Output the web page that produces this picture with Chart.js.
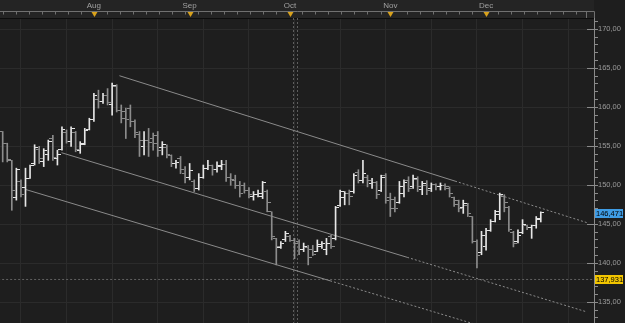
<!DOCTYPE html>
<html>
<head>
<meta charset="utf-8">
<script src="https://cdn.jsdelivr.net/npm/chart.js@4.4.1/dist/chart.umd.min.js"></script>
<style>
  html, body { margin: 0; padding: 0; background: #1e1e1e; }
  canvas { display: block; }
</style>
</head>
<body>
<canvas id="chart" width="625" height="323"></canvas>
<script>
// daily bars, one per trading day (index 0 = first bar on the left)
const opens = [156.9, 155.4, 153.2, 148.5, 150.5, 149.7, 150.9, 152.8, 154.6, 153.0,
  154.0, 156.0, 153.4, 154.6, 156.8, 155.6, 156.8, 154.4, 155.4, 157.2,
  158.5, 161.0, 160.8, 161.5, 160.4, 162.7, 159.6, 159.5, 159.8, 158.2,
  156.5, 155.0, 155.8, 156.0, 156.4, 154.8, 154.8, 153.8, 152.8, 153.4,
  151.5, 151.0, 150.5, 149.6, 151.0, 152.2, 152.6, 152.0, 152.4, 152.7,
  151.0, 150.6, 150.0, 150.0, 149.3, 148.6, 148.8, 148.6, 149.2, 146.6,
  143.2, 142.0, 143.0, 143.4, 142.9, 142.8, 141.8, 142.0, 141.8, 141.5,
  142.2, 141.8, 143.4, 143.2, 147.4, 148.4, 149.0, 149.2, 151.6, 150.6,
  151.0, 150.2, 150.4, 149.4, 151.3, 148.4, 148.2, 147.8, 149.0, 150.6,
  149.8, 150.7, 149.5, 150.0, 149.6, 150.1, 149.8, 150.0, 149.6, 148.4,
  148.0, 147.2, 147.4, 146.0, 142.8, 141.4, 142.2, 144.2, 145.4, 146.2,
  148.6, 147.2, 144.0, 142.8, 144.0, 144.8, 144.6, 144.8, 145.6];
const highs = [156.9, 155.4, 153.2, 152.2, 150.7, 152.2, 152.6, 155.2, 155.0, 154.7,
  155.8, 156.4, 154.5, 157.5, 157.1, 157.5, 156.9, 155.6, 157.3, 158.6,
  161.8, 162.2, 161.8, 162.4, 163.1, 162.9, 160.3, 159.9, 160.3, 158.4,
  156.9, 156.9, 157.3, 156.7, 156.9, 155.6, 155.2, 153.9, 153.2, 153.7,
  152.4, 152.8, 150.7, 151.5, 152.6, 153.2, 152.6, 153.0, 153.2, 153.2,
  151.5, 151.3, 150.5, 150.3, 149.7, 149.2, 149.4, 150.5, 149.4, 146.6,
  143.2, 142.8, 144.1, 143.6, 143.2, 143.0, 142.6, 142.3, 142.3, 143.0,
  142.8, 143.2, 143.6, 147.3, 149.4, 149.2, 149.4, 151.5, 152.0, 153.2,
  151.3, 150.9, 150.5, 151.3, 151.5, 149.0, 148.5, 150.5, 150.7, 151.1,
  151.3, 151.1, 150.5, 150.6, 150.3, 150.2, 150.3, 150.2, 149.8, 148.5,
  148.1, 148.1, 147.7, 146.0, 143.0, 144.1, 144.5, 145.6, 146.8, 149.0,
  148.8, 147.3, 144.1, 144.3, 145.6, 144.9, 144.9, 146.0, 146.6];
const lows = [153.0, 153.0, 146.8, 148.1, 148.5, 147.3, 150.9, 152.6, 152.8, 152.4,
  153.2, 153.2, 152.6, 154.5, 155.4, 155.0, 154.3, 154.1, 155.2, 157.1,
  158.2, 159.9, 160.5, 160.3, 159.0, 159.4, 158.0, 156.0, 157.5, 156.1,
  153.7, 153.9, 153.7, 154.5, 153.7, 153.9, 153.5, 152.4, 152.2, 151.5,
  150.3, 150.7, 149.2, 149.4, 150.9, 152.0, 151.3, 151.7, 152.0, 150.5,
  150.0, 149.6, 148.5, 149.0, 148.4, 148.1, 148.5, 148.3, 146.6, 143.0,
  139.8, 141.9, 142.8, 142.8, 140.6, 141.1, 141.5, 139.8, 141.0, 141.5,
  141.9, 141.1, 141.9, 143.0, 147.3, 147.5, 147.5, 149.0, 150.3, 150.3,
  149.8, 149.6, 148.3, 149.2, 147.7, 146.0, 146.6, 147.7, 148.5, 149.2,
  149.6, 149.2, 148.8, 148.8, 149.2, 149.4, 149.4, 149.4, 148.5, 147.3,
  146.6, 146.4, 146.0, 142.6, 139.4, 141.1, 141.7, 144.1, 145.3, 145.6,
  146.6, 144.1, 142.1, 142.6, 143.8, 144.3, 143.2, 144.5, 145.3];
const closes = [155.4, 153.3, 149.4, 152.0, 148.8, 150.9, 152.6, 154.9, 153.4, 154.5,
  155.6, 153.6, 154.0, 157.2, 155.6, 157.3, 154.6, 155.2, 157.0, 158.4,
  161.5, 160.8, 161.5, 160.6, 162.8, 159.6, 158.6, 158.4, 158.2, 156.8,
  155.8, 155.8, 155.5, 155.4, 154.5, 155.2, 154.0, 152.8, 152.9, 152.0,
  151.0, 151.9, 149.6, 151.0, 152.2, 152.6, 152.0, 152.6, 152.7, 151.0,
  150.8, 150.0, 149.0, 149.3, 148.8, 148.8, 149.0, 150.3, 147.8, 143.4,
  142.2, 142.6, 143.8, 142.9, 142.6, 141.8, 142.2, 140.8, 141.1, 142.4,
  142.5, 142.5, 142.2, 147.1, 149.2, 149.0, 148.6, 151.2, 150.6, 151.5,
  150.6, 150.4, 148.8, 151.0, 148.0, 147.0, 147.0, 149.8, 150.4, 149.6,
  150.9, 149.8, 150.2, 149.4, 150.1, 149.8, 150.0, 149.9, 148.9, 147.6,
  147.0, 147.7, 146.4, 142.8, 141.0, 143.6, 144.2, 145.4, 146.6, 148.8,
  147.8, 144.4, 142.6, 143.6, 145.0, 144.6, 144.8, 145.8, 146.471];

// first trading day of each month (bar index)
const monthIdx = [20, 41, 63, 85, 106];
const monthNames = ['Aug', 'Sep', 'Oct', 'Nov', 'Dec'];
// vertical grid every 10 bars
const gridIdx = [4, 14, 24, 34, 44, 54, 64, 74, 84, 94, 104, 114, 124];

// trend channel: [bar index, price], solid up to the middle point, dotted after
const channelTop = [[25.6, 164.05], [99.2, 150.54], [128.1, 145.22]];
const channelMid = [[12.9, 154.18], [88.7, 140.77], [128.1, 133.77]];
const channelLow = [[4.9, 149.49], [71.8, 137.76], [104.7, 132.0]];

const lastPrice = 146.471;
const markLevel = 137.931;

const upColor = '#e6e6e6';
const downColor = '#8c8c8c';
const font = 'Liberation Sans';

const barColors = closes.map((c, i) => c >= opens[i] ? upColor : downColor);

function tickImg(color, side) {
  const c = document.createElement('canvas');
  c.width = 7;
  c.height = 1;
  const g = c.getContext('2d');
  g.fillStyle = color;
  g.fillRect(side === 'left' ? 0 : 4, 0, 3, 1);
  return c;
}
const openUp = tickImg(upColor, 'left'), openDown = tickImg(downColor, 'left');
const closeUp = tickImg(upColor, 'right'), closeDown = tickImg(downColor, 'right');

function channelSet(pts) {
  return {
    type: 'line',
    data: pts.map(p => ({x: p[0], y: p[1]})),
    borderColor: '#8a8a8a',
    borderWidth: 1,
    pointRadius: 0,
    segment: {
      borderDash: ctx => ctx.p0DataIndex > 0 ? [2, 2] : []
    },
    order: 5
  };
}

function fmt(v, d) {
  return v.toFixed(d).replace('.', ',');
}

// axes keep no extra padding, so the plot runs edge to edge
function noPad(s) {
  s.paddingLeft = 0;
  s.paddingRight = 0;
  s.paddingTop = 0;
  s.paddingBottom = 0;
}

const decor = {
  id: 'decor',
  beforeDraw(chart) {
    const ctx = chart.ctx;
    ctx.save();
    ctx.fillStyle = '#1e1e1e';
    ctx.fillRect(0, 0, chart.width, chart.height);
    ctx.fillStyle = '#242424';
    ctx.fillRect(0, 0, chart.scales.y.left, chart.chartArea.top);
    ctx.restore();
  },
  beforeDatasetsDraw(chart) {
    // dotted period lines at the start of Oct
    const {ctx, chartArea, scales: {x}} = chart;
    ctx.save();
    ctx.strokeStyle = '#5e5e5e';
    ctx.lineWidth = 1;
    ctx.setLineDash([2, 2]);
    [63.65, 64.55].forEach(v => {
      const px = Math.round(x.getPixelForValue(v)) + 0.5;
      ctx.beginPath();
      ctx.moveTo(px, chartArea.top);
      ctx.lineTo(px, chartArea.bottom);
      ctx.stroke();
    });
    ctx.restore();
  },
  afterDraw(chart) {
    const {ctx, chartArea, scales: {x, y}} = chart;
    const right = y.left;
    ctx.save();

    // time ruler on top
    ctx.strokeStyle = '#707070';
    ctx.lineWidth = 1;
    ctx.beginPath();
    ctx.moveTo(0, 11.5);
    ctx.lineTo(right + 0.5, 11.5);
    ctx.lineTo(right + 0.5, chartArea.top);
    ctx.moveTo(right - 7.5, 11.5);
    ctx.lineTo(right - 7.5, chartArea.top);
    for (let k = 0; k < 46; k++) {
      const v = k * 20 / 7;
      if (monthIdx.some(m => Math.abs(m - v) < 0.8)) continue;
      const px = Math.round(x.getPixelForValue(v)) + 0.5;
      if (px > right - 8) break;
      ctx.moveTo(px, 11.5);
      ctx.lineTo(px, 14.5);
    }
    ctx.stroke();

    ctx.fillStyle = '#d9a21c';
    monthIdx.forEach(m => {
      const px = Math.round(x.getPixelForValue(m)) + 0.5;
      ctx.beginPath();
      ctx.moveTo(px - 3, 12);
      ctx.lineTo(px + 3, 12);
      ctx.lineTo(px, 17);
      ctx.closePath();
      ctx.fill();
    });

    // long ticks on the price axis at labelled levels
    ctx.strokeStyle = '#8a8a8a';
    ctx.beginPath();
    y.ticks.forEach(t => {
      if (t.value % 5 !== 0) return;
      const py = Math.round(y.getPixelForValue(t.value)) + 0.5;
      ctx.moveTo(right - 7, py);
      ctx.lineTo(right, py);
    });
    ctx.stroke();

    // price boxes
    ctx.font = '7.5px "' + font + '"';
    ctx.textBaseline = 'middle';
    [[lastPrice, '#3f9de6'], [markLevel, '#f2c500']].forEach(([v, col]) => {
      const py = Math.round(y.getPixelForValue(v));
      ctx.fillStyle = col;
      ctx.fillRect(right + 1, py - 4, 28, 9);
      ctx.fillStyle = '#000';
      ctx.fillText(fmt(v, 3), right + 2, py + 0.5);
    });
    ctx.restore();
  }
};

new Chart(document.getElementById('chart'), {
  type: 'line',
  data: {
    datasets: [
      {
        type: 'bar',
        data: highs.map((h, i) => ({x: i, y: [lows[i], h]})),
        backgroundColor: barColors,
        borderWidth: 0,
        barThickness: 1,
        order: 3
      },
      {
        type: 'scatter',
        data: opens.map((o, i) => ({x: i, y: o})),
        pointStyle: closes.map((c, i) => c >= opens[i] ? openUp : openDown),
        pointRadius: 2,
        order: 2
      },
      {
        type: 'scatter',
        data: closes.map((c, i) => ({x: i, y: c})),
        pointStyle: closes.map((c, i) => c >= opens[i] ? closeUp : closeDown),
        pointRadius: 2,
        order: 2
      },
      channelSet(channelTop),
      channelSet(channelMid),
      channelSet(channelLow),
      {
        type: 'line',
        data: [{x: -1, y: markLevel}, {x: 131, y: markLevel}],
        borderColor: '#606060',
        borderWidth: 1,
        borderDash: [2, 2],
        pointRadius: 0,
        order: 6
      }
    ]
  },
  options: {
    responsive: false,
    animation: false,
    events: [],
    devicePixelRatio: 1,
    layout: { padding: 0, autoPadding: false },
    plugins: {
      legend: { display: false },
      tooltip: { enabled: false }
    },
    scales: {
      x: {
        type: 'linear',
        position: 'top',
        min: -0.59,
        max: 129.67,
        offset: false,
        afterFit: s => { s.height = 18; noPad(s); },
        afterBuildTicks: s => {
          s.ticks = gridIdx.concat(monthIdx).sort((a, b) => a - b).map(v => ({value: v}));
        },
        ticks: {
          autoSkip: false,
          maxRotation: 0,
          padding: 7,
          color: '#a0a0a0',
          font: { family: font, size: 8 },
          callback: v => monthNames[monthIdx.indexOf(v)] || ''
        },
        grid: {
          offset: false,
          drawTicks: false,
          color: ctx => ctx.tick && monthIdx.includes(ctx.tick.value) ? 'rgba(0,0,0,0)' : '#2b2b2b'
        },
        border: { color: '#0d0d0d' }
      },
      y: {
        type: 'linear',
        position: 'right',
        min: 132.35,
        max: 171.45,
        beginAtZero: false,
        afterFit: s => { s.width = 31; noPad(s); },
        afterBuildTicks: s => {
          const t = [];
          for (let v = 133; v <= 171; v++) t.push({value: v});
          s.ticks = t;
        },
        ticks: {
          autoSkip: false,
          padding: 0,
          color: '#9a9a9a',
          font: { family: font, size: 7.5 },
          callback: v => v % 5 === 0 ? fmt(v, 2) : ''
        },
        grid: {
          tickLength: 4,
          tickColor: '#8a8a8a',
          color: ctx => ctx.tick && ctx.tick.value % 5 === 0 ? '#2b2b2b' : 'rgba(0,0,0,0)'
        },
        border: { color: '#8a8a8a' }
      }
    }
  },
  plugins: [decor]
});
</script>
</body>
</html>
